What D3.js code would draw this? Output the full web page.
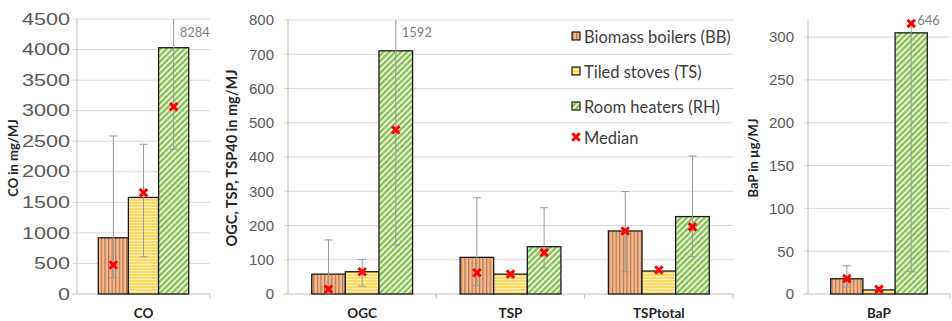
<!DOCTYPE html>
<html>
<head>
<meta charset="utf-8">
<script src="https://cdn.jsdelivr.net/npm/d3@7"></script>
<style>
  body { margin: 0; background: #fff; }
  svg { font-family: Lato, "Open Sans", sans-serif; }
</style>
</head>
<body>
<svg id="chart" width="952" height="321"></svg>
<script>
// values, one entry per category (CO, OGC, TSP, TSPtotal, BaP)
var categories = ["CO", "OGC", "TSP", "TSPtotal", "BaP"];
var seriesNames = ["Biomass boilers (BB)", "Tiled stoves (TS)", "Room heaters (RH)"];

var bbMean = [920, 58, 107, 184, 17.8];
var tsMean = [1580, 65, 58, 67, 4.7];
var rhMean = [4030, 710, 138, 226, 305];

var bbMedian = [475, 14, 62, 184, 18];
var tsMedian = [1658, 65, 58, 70, 5.4];
var rhMedian = [3065, 479, 121, 196, 316];

var bbHigh = [2585, 158, 281, 299, 33];
var tsHigh = [2450, 101, null, null, null];
var rhHigh = [8284, 1592, 252, 403, 646];

var bbLow = [267, 3, 25, 65, 8];
var tsLow = [610, 23, null, null, null];
var rhLow = [2370, 143, 76, 109, 26];

var coTicks = [0, 500, 1000, 1500, 2000, 2500, 3000, 3500, 4000, 4500];
var midTicks = [0, 100, 200, 300, 400, 500, 600, 700, 800];
var bapTicks = [0, 50, 100, 150, 200, 250, 300];

var panels = [
  {cats: ["CO"], x0: 77, x1: 210, top: 19, max: 4500, ticks: coTicks, title: "CO in mg/MJ", titleX: 18, titleSize: 13,
   labelX: 70, tickSize: 16, tickStretch: 1.35, clipDy: 18},
  {cats: ["OGC", "TSP", "TSPtotal"], x0: 288, x1: 733, top: 20, max: 800, ticks: midTicks, title: "OGC, TSP, TSP40 in mg/MJ", titleX: 237, titleSize: 14.5,
   labelX: 274, tickSize: 15, tickStretch: 1, clipDy: 17},
  {cats: ["BaP"], x0: 808, x1: 950, top: 20, max: 320, ticks: bapTicks, title: "BaP in \u00b5g/MJ", titleX: 758, titleSize: 13,
   labelX: 794, tickSize: 15, tickStretch: 1, clipDy: 5}
];

var bottom = 294;
var svg = d3.select("#chart");

// hatch patterns
var defs = svg.append("defs");
var pBB = defs.append("pattern").attr("id", "pBB").attr("patternUnits", "userSpaceOnUse")
  .attr("width", 3.6).attr("height", 10);
pBB.append("rect").attr("width", 3.6).attr("height", 10).attr("fill", "#f6b98f");
pBB.append("rect").attr("x", 0).attr("width", 1.2).attr("height", 10).attr("fill", "#b8754c");

var pTS = defs.append("pattern").attr("id", "pTS").attr("patternUnits", "userSpaceOnUse")
  .attr("width", 10).attr("height", 3);
pTS.append("rect").attr("width", 10).attr("height", 3).attr("fill", "#ffd863");
pTS.append("rect").attr("y", 0).attr("width", 10).attr("height", 1).attr("fill", "#fff1b8");

var pRH = defs.append("pattern").attr("id", "pRH").attr("patternUnits", "userSpaceOnUse")
  .attr("width", 4.2).attr("height", 10).attr("patternTransform", "rotate(45)");
pRH.append("rect").attr("width", 4.2).attr("height", 10).attr("fill", "#eaf4df");
pRH.append("rect").attr("width", 2.4).attr("height", 10).attr("fill", "#8fc35a");

var fills = ["url(#pBB)", "url(#pTS)", "url(#pRH)"];
var means = [bbMean, tsMean, rhMean];
var medians = [bbMedian, tsMedian, rhMedian];
var highs = [bbHigh, tsHigh, rhHigh];
var lows = [bbLow, tsLow, rhLow];

var xMark = d3.symbol().type(d3.symbolX).size(38);

panels.forEach(function(p) {
  var y = d3.scaleLinear().domain([0, p.max]).range([bottom, p.top]);
  var x = d3.scaleBand().domain(p.cats).range([p.x0, p.x1]);
  var inner = d3.scaleBand().domain([0, 1, 2])
    .range([x.bandwidth() * 0.16, x.bandwidth() * 0.84]);

  var g = svg.append("g");

  // grid
  g.selectAll(".grid").data(p.ticks.filter(function(t) { return t > 0; })).enter()
    .append("line")
    .attr("x1", p.x0 - 4).attr("x2", p.x1)
    .attr("y1", function(d) { return y(d); }).attr("y2", function(d) { return y(d); })
    .attr("stroke", "#d9d9d9").attr("stroke-width", 1);

  // y axis
  var yAxis = d3.axisLeft(y).tickValues(p.ticks).tickFormat(d3.format("d")).tickSize(0).tickPadding(0);
  var ya = g.append("g").attr("transform", "translate(" + p.labelX + ",0)").call(yAxis);
  ya.select(".domain").remove();
  ya.selectAll("text").attr("font-size", p.tickSize).attr("fill", "#595959")
    .attr("transform", "scale(" + p.tickStretch + ",1)");
  g.append("line").attr("x1", p.x0).attr("x2", p.x0).attr("y1", p.top).attr("y2", bottom)
    .attr("stroke", "#bfbfbf");

  // x axis with boundary ticks
  g.append("line").attr("x1", p.x0 - 5).attr("x2", p.x1).attr("y1", bottom).attr("y2", bottom)
    .attr("stroke", "#bfbfbf");
  var bounds = p.cats.map(function(c) { return x(c) + x.bandwidth(); });
  g.selectAll(".xt").data(bounds).enter().append("line")
    .attr("x1", function(d) { return d; }).attr("x2", function(d) { return d; })
    .attr("y1", bottom).attr("y2", bottom + 5).attr("stroke", "#bfbfbf");
  g.selectAll(".xl").data(p.cats).enter().append("text")
    .attr("x", function(d) { return x(d) + x.bandwidth() / 2; })
    .attr("y", 318).attr("text-anchor", "middle")
    .attr("font-size", 13.5).attr("font-weight", "bold").attr("fill", "#262626")
    .text(function(d) { return d; });

  // y title
  g.append("text")
    .attr("transform", "translate(" + p.titleX + "," + 158 + ") rotate(-90)")
    .attr("text-anchor", "middle").attr("font-size", p.titleSize).attr("font-weight", "bold")
    .attr("fill", "#262626").text(p.title);

  p.cats.forEach(function(c) {
    var ci = categories.indexOf(c);
    for (var s = 0; s < 3; s++) {
      var bx = x(c) + inner(s), bw = inner.bandwidth();
      g.append("rect").attr("x", bx).attr("width", bw)
        .attr("y", y(means[s][ci])).attr("height", bottom - y(means[s][ci]))
        .attr("fill", fills[s]).attr("stroke", "#1a1a1a").attr("stroke-width", 1.3);
    }
    for (var s2 = 0; s2 < 3; s2++) {
      var cx = x(c) + inner(s2) + inner.bandwidth() / 2;
      var hi = highs[s2][ci], lo = lows[s2][ci];
      if (hi !== null) {
        var clipped = hi > p.max;
        var yHi = clipped ? p.top : y(hi);
        var yLo = y(lo);
        g.append("line").attr("x1", cx).attr("x2", cx).attr("y1", yHi).attr("y2", yLo)
          .attr("stroke", "#9a9a9a").attr("stroke-width", 1);
        if (!clipped) {
          g.append("line").attr("x1", cx - 4).attr("x2", cx + 4).attr("y1", yHi).attr("y2", yHi)
            .attr("stroke", "#9a9a9a");
        } else {
          g.append("text").attr("x", cx + 6).attr("y", p.top + p.clipDy)
            .attr("font-size", 13).attr("fill", "#7f7f7f").text(hi);
        }
        g.append("line").attr("x1", cx - 4).attr("x2", cx + 4).attr("y1", yLo).attr("y2", yLo)
          .attr("stroke", "#9a9a9a");
      }
      g.append("path").attr("d", xMark)
        .attr("transform", "translate(" + cx + "," + y(medians[s2][ci]) + ")")
        .attr("fill", "none").attr("stroke", "#ff0000").attr("stroke-width", 3);
    }
  });
});

// legend
var legY = [37, 72, 107, 138];
var leg = svg.append("g");
seriesNames.forEach(function(n, i) {
  leg.append("rect").attr("x", 572).attr("y", legY[i] - 5).attr("width", 8).attr("height", 8)
    .attr("fill", fills[i]).attr("stroke", "#1a1a1a").attr("stroke-width", 1.2);
  leg.append("text").attr("x", 584).attr("y", legY[i] + 5.5).attr("font-size", 16.5)
    .attr("fill", "#404040").text(n);
});
leg.append("path").attr("d", xMark).attr("transform", "translate(576," + (legY[3] - 1) + ")")
  .attr("fill", "none").attr("stroke", "#ff0000").attr("stroke-width", 3);
leg.append("text").attr("x", 584).attr("y", legY[3] + 5.5).attr("font-size", 16.5)
  .attr("fill", "#404040").text("Median");
</script>
</body>
</html>
